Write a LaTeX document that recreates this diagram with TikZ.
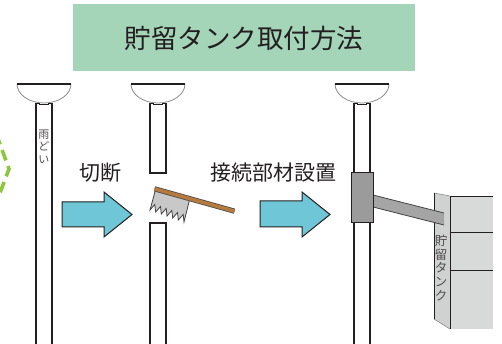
\documentclass[tikz,border=0pt]{standalone}
\usepackage{fontspec}
\newfontfamily\jp{Noto Sans CJK JP}
\usetikzlibrary{calc}
\definecolor{ink}{HTML}{231F20}
\definecolor{titlegreen}{RGB}{164,213,185}
\definecolor{flowblue}{RGB}{110,198,214}
\definecolor{leafgreen}{RGB}{140,198,63}
\definecolor{bowlgray}{RGB}{140,140,140}
\definecolor{blockgray}{RGB}{155,155,155}
\definecolor{bargray}{RGB}{165,165,165}
\definecolor{tankside}{RGB}{208,209,209}
\definecolor{tankfront}{RGB}{216,217,217}
\definecolor{sawgray}{RGB}{200,200,200}
\definecolor{handlebrown}{RGB}{181,122,62}
\tikzset{
  pipeline/.style={draw=ink, line width=1.1pt},
  flowarrow/.style={fill=flowblue, draw=ink, line width=1pt, line join=miter},
  caption/.style={font=\jp\fontsize{21}{21}\selectfont, text=ink, inner sep=0pt},
  vlabel/.style={text=ink!80, inner sep=0pt, align=center},
  funnel/.pic={
    \draw[bowlgray, line width=0.8pt] (-27,0) .. controls (-27,10.5) and (-14.9,19) .. (0,19)
          .. controls (14.9,19) and (27,10.5) .. (27,0);
    \draw[pipeline] (-27,0) -- (27,0);
    \draw[ink, line width=0.6pt] (-8,19) -- (-4.5,19) -- (-4.5,20.5) -- (4.5,20.5) -- (4.5,19) -- (8,19);
  }
}
\begin{document}
\begin{tikzpicture}[x=1pt, y=-1pt]
\useasboundingbox (0,0) rectangle (502,344);

% title banner
\fill[titlegreen] (73,4) rectangle (415,71);
\node[font=\jp\fontsize{26.5}{26.5}\selectfont, text=ink, inner sep=0pt] (title) at (244,38.5) {貯留タンク取付方法};

% dashed green edge on the far left
\draw[leafgreen, line width=3.6pt, dash pattern=on 11pt off 6pt, dash phase=2pt]
  (-3,136) -- (9,169) -- (-3,201);

% downpipe 1 (uncut)
\pic at (44,84) {funnel};
\draw[pipeline] (36,103) -- (36,344) (52,103) -- (52,344);
\node[vlabel, font=\jp\fontsize{11}{12.5}\selectfont] (pipename) at (43.8,146.5) {雨\\ど\\い};

% step 1: cut
\node[caption] (cut) at (100,173) {切断};
\draw[flowarrow] (62,202) -- (104,202) -- (104,192) -- (132,214.5) -- (104,237) -- (104,227) -- (62,227) -- cycle;

% downpipe 2 (cut in two)
\pic at (158,84) {funnel};
\draw[pipeline] (150,103) -- (150,173) -- (166,173) -- (166,103);
\draw[pipeline] (150,344) -- (150,223) -- (166,223) -- (166,344);

% saw
\draw[fill=sawgray, draw=ink!85, line width=0.8pt, line join=miter]
  (156,188) -- (190,198) -- (184,222)
  -- (183.2,214.5) -- (178.3,220) -- (177.5,212.5) -- (172.7,218) -- (171.8,210.5)
  -- (167,216) -- (166.2,208.5) -- (161.3,214) -- (160.5,206.5) -- (155.7,212)
  -- (154.8,204.5) -- (150,210) -- cycle;
\draw[ink!80, line width=5.2pt] (154.5,188.8) -- (234.5,211.2);
\draw[handlebrown, line width=3.6pt] (154.5,188.8) -- (234.5,211.2);

% step 2: fit the connector
\node[caption] (fit) at (273.5,173) {接続部材設置};
\draw[flowarrow] (260,201) -- (302,201) -- (302,192) -- (330,214.5) -- (302,237) -- (302,227) -- (260,227) -- cycle;

% storage tank
\fill[tankside] (434,193) -- (450,196) -- (450,329) -- (434,319) -- cycle;
\fill[tankfront] (450,196) rectangle (493,329);
\draw[bowlgray, line width=0.6pt] (434,193) -- (450,196) (434,319) -- (450,329);
\draw[pipeline, line width=0.9pt] (434,193) -- (434,319);
\draw[pipeline, line width=0.9pt] (450,329) -- (450,196) -- (493,196);
\draw[pipeline, line width=0.9pt] (450,232) -- (493,232) (450,270) -- (493,270);
\node[vlabel, font=\jp\fontsize{12.5}{13.8}\selectfont] (tankname) at (441,268) {貯\\留\\タ\\ン\\ク};

% downpipe 3 with connector and branch to the tank
\pic at (362,84) {funnel};
\draw[pipeline] (354,103) -- (354,344) (370,103) -- (370,344);
\fill[bargray] (373,195) -- (444,213) -- (444,225) -- (373,207) -- cycle;
\draw[ink!85, line width=0.8pt] (373,195) -- (444,213) (373,207) -- (444,225);
\draw[fill=blockgray, draw=ink, line width=1pt] (351,173) rectangle (373,223);
\end{tikzpicture}
\end{document}
